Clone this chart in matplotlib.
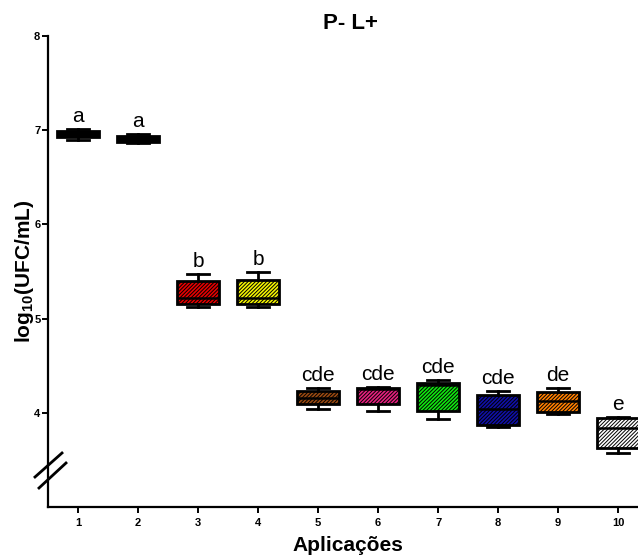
import matplotlib
matplotlib.use("Agg")
from matplotlib import pyplot as plt
from matplotlib.lines import Line2D

plt.rcParams['font.family'] = ['Liberation Sans', 'DejaVu Sans']
plt.rcParams['mathtext.fontset'] = 'custom'
plt.rcParams['mathtext.bf'] = 'Liberation Sans:bold'
plt.rcParams['mathtext.rm'] = 'Liberation Sans:bold'
plt.rcParams['hatch.linewidth'] = 0.7

# data (log10 UFC/mL)
aplicacoes = [1, 2, 3, 4, 5, 6, 7, 8, 9, 10]
mins = [6.90, 6.86, 5.12, 5.12, 4.04, 4.02, 3.93, 3.85, 3.99, 3.57]
q1s = [6.93, 6.88, 5.16, 5.16, 4.09, 4.09, 4.02, 3.87, 4.01, 3.63]
meds = [6.96, 6.91, 5.22, 5.22, 4.16, 4.25, 4.30, 4.04, 4.12, 3.84]
q3s = [6.99, 6.94, 5.40, 5.41, 4.23, 4.26, 4.32, 4.19, 4.22, 3.94]
maxs = [7.01, 6.96, 5.47, 5.49, 4.26, 4.27, 4.35, 4.23, 4.26, 3.96]
letras = ['a', 'a', 'b', 'b', 'cde', 'cde', 'cde', 'cde', 'de', 'e']
cores = ['#000000', '#000000', '#e80000', '#f5f500', '#9a4a12', '#e82080',
         '#10e810', '#1010a8', '#ff8000', '#ffffff']

W, H = 638, 558
fig = plt.figure(figsize=(W / 100, H / 100), dpi=100)
ax = fig.add_axes([48 / W, 1 - 507 / H, (W - 48) / W, (507 - 36) / H])

stats = []
for i in range(len(aplicacoes)):
    stats.append(dict(whislo=mins[i], q1=q1s[i], med=meds[i], q3=q3s[i],
                      whishi=maxs[i], fliers=[]))

bp = ax.bxp(stats, positions=aplicacoes, widths=0.7, capwidths=0.37,
            patch_artist=True, showfliers=False,
            boxprops=dict(linewidth=2, edgecolor='black'),
            whiskerprops=dict(linewidth=2, color='black'),
            capprops=dict(linewidth=2, color='black'),
            medianprops=dict(linewidth=1.8, color='black'))
for patch, c in zip(bp['boxes'], cores):
    patch.set_facecolor(c)
    patch.set_hatch('/////////')

for x, top, t in zip(aplicacoes, maxs, letras):
    ax.text(x, top + 0.075, t, ha='center', va='baseline', fontsize=15)

ax.set_xlim(0.5, 10.33)
ax.set_ylim(3.0, 8.0)
ax.set_xticks(aplicacoes)
ax.set_xticklabels([str(a) for a in aplicacoes])
ax.set_yticks([4, 5, 6, 7, 8])
for s in ['top', 'right']:
    ax.spines[s].set_visible(False)
for s in ['left', 'bottom']:
    ax.spines[s].set_linewidth(1.6)
ax.tick_params(axis='x', length=4, width=1.4, pad=4, labelsize=8)
ax.tick_params(axis='y', length=4, width=1.4, pad=1.5, labelsize=8)
for lab in ax.get_xticklabels() + ax.get_yticklabels():
    lab.set_fontweight('bold')

# axis break marks
for (x0, y0, x1, y1) in [(35, 477, 62, 453), (39, 488, 66, 463)]:
    fig.add_artist(Line2D([x0 / W, x1 / W], [1 - y0 / H, 1 - y1 / H],
                          color='black', linewidth=2))

fig.text(350 / W, 1 - 29 / H, 'P- L+', ha='center', va='baseline',
         fontsize=16, fontweight='bold')
fig.text(348 / W, 1 - 551 / H, 'Aplicações', ha='center', va='baseline',
         fontsize=15, fontweight='bold')
fig.text(24 / W, 1 - 271 / H, r'log$_{\mathbf{10}}$(UFC/mL)', rotation=90,
         ha='center', va='center', fontsize=15, fontweight='bold')

fig.savefig('out.png', dpi=100)
